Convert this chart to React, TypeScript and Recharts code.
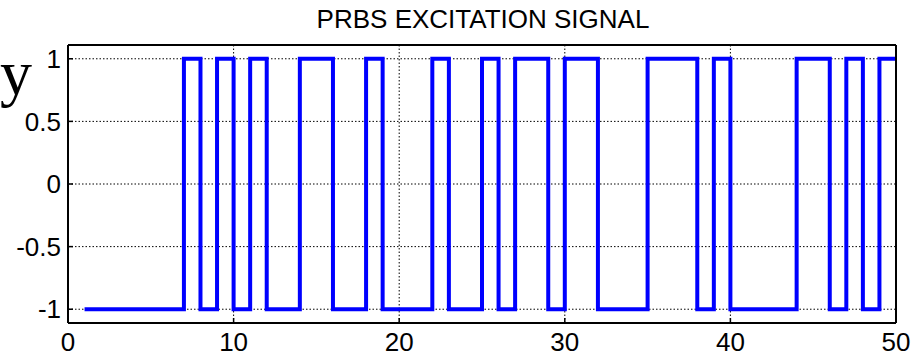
import { LineChart, Line, XAxis, YAxis, CartesianGrid } from 'recharts';

// sample index k and PRBS value u(k), drawn with stairs
const samples = [
  1, 2, 3, 4, 5, 6, 7, 8, 9, 10,
  11, 12, 13, 14, 15, 16, 17, 18, 19, 20,
  21, 22, 23, 24, 25, 26, 27, 28, 29, 30,
  31, 32, 33, 34, 35, 36, 37, 38, 39, 40,
  41, 42, 43, 44, 45, 46, 47, 48, 49, 50,
];
const prbs = [
  -1, -1, -1, -1, -1, -1, 1, -1, 1, -1,
  1, -1, -1, 1, 1, -1, -1, 1, -1, -1,
  -1, 1, -1, -1, 1, -1, 1, 1, -1, 1,
  1, -1, -1, -1, 1, 1, 1, -1, 1, -1,
  -1, -1, -1, 1, 1, -1, 1, -1, 1, 1,
];
const xTicks = [0, 10, 20, 30, 40, 50];
const yTicks = [-1, -0.5, 0, 0.5, 1];

const data = samples.map((k, i) => ({ k, u: prbs[i] }));

const font = "Arial, 'Liberation Sans', sans-serif";
const tickStyle = { fill: '#000', fontSize: 26, fontFamily: font };

export default function App() {
  return (
    <div style={{ position: 'absolute', left: 0, top: 0, width: 922, height: 356, background: '#fff' }}>
      <LineChart width={922} height={356} data={data} margin={{ top: 0, right: 0, bottom: 0, left: 0 }}>
        <CartesianGrid stroke="#000" strokeDasharray="1.5 2" strokeWidth={1} />
        <XAxis
          dataKey="k"
          type="number"
          domain={[0, 50]}
          ticks={xTicks}
          height={33}
          tickSize={-5}
          tickMargin={14.5}
          tick={tickStyle}
          axisLine={{ stroke: '#000', strokeWidth: 2 }}
          tickLine={{ stroke: '#000', strokeWidth: 1.5 }}
          allowDataOverflow
        />
        <XAxis
          xAxisId="top"
          orientation="top"
          type="number"
          domain={[0, 50]}
          ticks={xTicks}
          height={45}
          tickSize={-5}
          tick={false}
          axisLine={{ stroke: '#000', strokeWidth: 2 }}
          tickLine={{ stroke: '#000', strokeWidth: 1.5 }}
          allowDataOverflow
        />
        <YAxis
          type="number"
          domain={[-1.11, 1.11]}
          ticks={yTicks}
          width={68}
          tickSize={-5}
          tickMargin={12}
          tick={tickStyle}
          axisLine={{ stroke: '#000', strokeWidth: 2 }}
          tickLine={{ stroke: '#000', strokeWidth: 1.5 }}
          allowDataOverflow
        />
        <YAxis
          yAxisId="right"
          orientation="right"
          type="number"
          domain={[-1.11, 1.11]}
          ticks={yTicks}
          width={26}
          tickSize={-5}
          tick={false}
          axisLine={{ stroke: '#000', strokeWidth: 2 }}
          tickLine={{ stroke: '#000', strokeWidth: 1.5 }}
          allowDataOverflow
        />
        <Line
          type="stepAfter"
          dataKey="u"
          stroke="#0000ff"
          strokeWidth={4}
          dot={false}
          activeDot={false}
          isAnimationActive={false}
        />
      </LineChart>
      <svg
        width={922}
        height={356}
        style={{ position: 'absolute', left: 0, top: 0, pointerEvents: 'none' }}
      >
        <text x={483} y={28} textAnchor="middle" fontFamily={font} fontSize={26} fill="#000">
          PRBS EXCITATION SIGNAL
        </text>
        <text x={0} y={94} fontFamily="'Liberation Serif', 'Times New Roman', serif" fontSize={64} fill="#000">
          y
        </text>
      </svg>
    </div>
  );
}
